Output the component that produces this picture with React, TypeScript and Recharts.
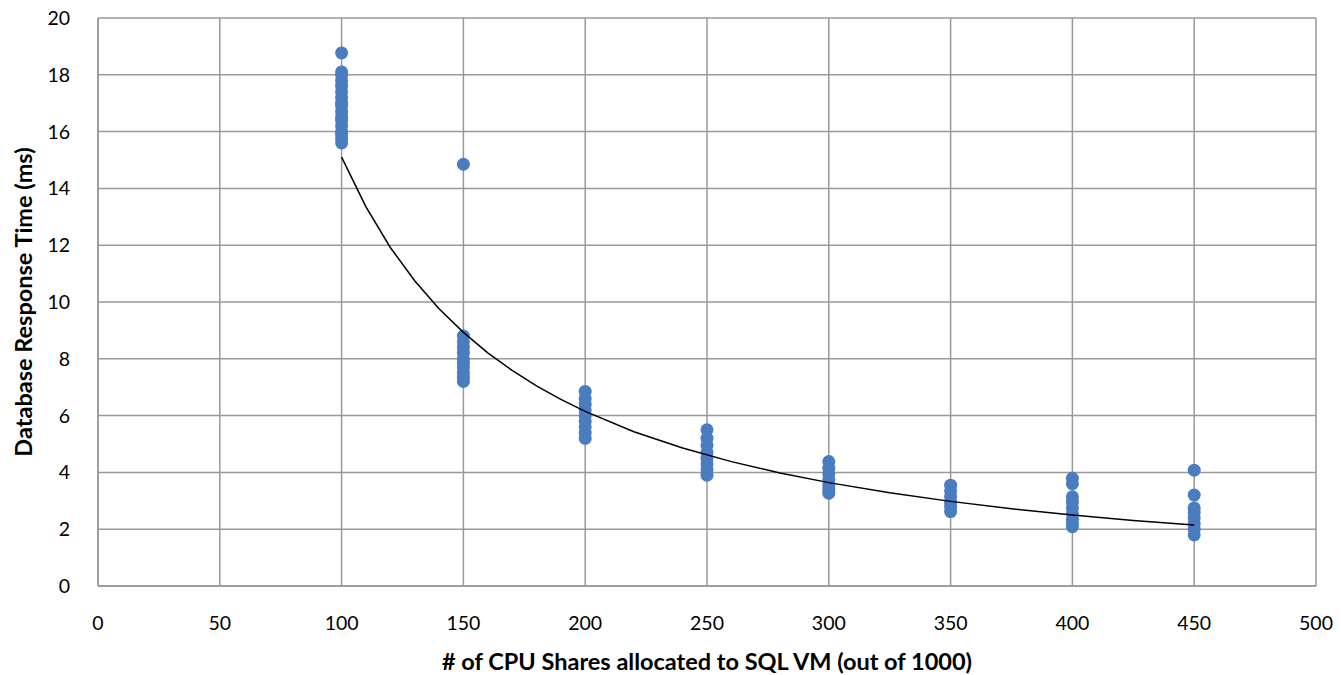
import { ScatterChart, Scatter, XAxis, YAxis, CartesianGrid, Label } from "recharts";

// response time samples per CPU share setting
const shares100 = [18.77, 18.1, 18.0, 17.8, 17.6, 17.4, 17.2, 17.0, 16.9, 16.7, 16.5, 16.4, 16.2, 16.0, 15.9, 15.75, 15.6];
const shares150 = [14.85, 8.8, 8.6, 8.4, 8.2, 8.0, 7.85, 7.7, 7.5, 7.35, 7.2];
const shares200 = [6.85, 6.6, 6.4, 6.2, 6.0, 5.8, 5.6, 5.4, 5.2];
const shares250 = [5.5, 5.2, 4.95, 4.7, 4.5, 4.3, 4.1, 3.9];
const shares300 = [4.38, 4.15, 3.95, 3.75, 3.55, 3.4, 3.27];
const shares350 = [3.55, 3.35, 3.15, 2.95, 2.8, 2.62];
const shares400 = [3.79, 3.6, 3.14, 2.95, 2.75, 2.55, 2.35, 2.2, 2.09];
const shares450 = [4.08, 3.2, 2.75, 2.6, 2.4, 2.2, 2.0, 1.8];

// power trendline
const trendX = [100, 110, 120, 130, 140, 150, 160, 170, 180, 190, 200, 220, 240, 260, 280, 300, 325, 350, 375, 400, 425, 450];
const trendY = [15.1, 13.35, 11.92, 10.75, 9.76, 8.93, 8.21, 7.59, 7.05, 6.57, 6.15, 5.43, 4.86, 4.38, 3.98, 3.64, 3.28, 2.98, 2.72, 2.5, 2.31, 2.15];

const xTicks = [0, 50, 100, 150, 200, 250, 300, 350, 400, 450, 500];
const yTicks = [0, 2, 4, 6, 8, 10, 12, 14, 16, 18, 20];

const groups: [number, number[]][] = [
  [100, shares100],
  [150, shares150],
  [200, shares200],
  [250, shares250],
  [300, shares300],
  [350, shares350],
  [400, shares400],
  [450, shares450],
];

const points = groups.flatMap(([x, ys]) => ys.map((y) => ({ x, y })));
const trend = trendX.map((x, i) => ({ x, y: trendY[i] }));

const font = "Lato, 'Open Sans', sans-serif";
const tickStyle = { fontSize: 19.5, fill: "#000", fontFamily: font };
const titleStyle = { fontSize: 23.5, fontWeight: 700, fill: "#000", fontFamily: font };

const Dot = (props: any) => <circle cx={props.cx} cy={props.cy} r={6.5} fill="#4a7cc0" />;

export default function App() {
  return (
    <div style={{ position: "absolute", left: 0, top: 0 }}>
      <ScatterChart width={1341} height={675} margin={{ top: 18, right: 25, bottom: 0, left: 38 }}>
        <CartesianGrid stroke="#999999" strokeWidth={1.5} />
        <XAxis
          type="number"
          dataKey="x"
          domain={[0, 500]}
          ticks={xTicks}
          tickLine={false}
          axisLine={{ stroke: "#999999", strokeWidth: 1.5 }}
          tick={tickStyle}
          tickMargin={24}
          height={89}
        >
          <Label value="# of CPU Shares allocated to SQL VM (out of 1000)" position="insideBottom" offset={5} style={titleStyle} />
        </XAxis>
        <YAxis
          type="number"
          dataKey="y"
          domain={[0, 20]}
          ticks={yTicks}
          tickLine={false}
          axisLine={{ stroke: "#999999", strokeWidth: 1.5 }}
          tick={tickStyle}
          tickMargin={22}
          width={60}
        >
          <Label
            value="Database Response Time (ms)"
            angle={-90}
            position="insideLeft"
            offset={-14}
            style={{ ...titleStyle, textAnchor: "middle" }}
          />
        </YAxis>
        <Scatter data={points} fill="#4a7cc0" isAnimationActive={false} shape={Dot} />
        <Scatter
          data={trend}
          line={{ stroke: "#000", strokeWidth: 1.5 }}
          lineType="joint"
          shape={() => <g />}
          isAnimationActive={false}
        />
      </ScatterChart>
    </div>
  );
}
